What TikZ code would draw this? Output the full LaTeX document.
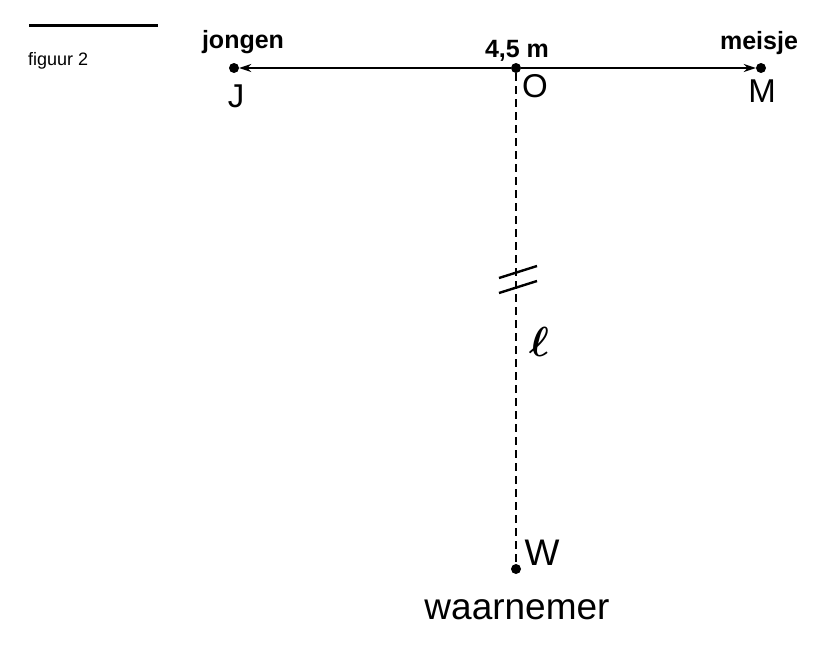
\documentclass[tikz,border=0pt]{standalone}
\usepackage{fontspec}
\setmainfont{Liberation Sans}
\usetikzlibrary{arrows.meta}
\begin{document}
\begin{tikzpicture}[x=1pt,y=-1pt,
  pt/.style={circle,fill=black,inner sep=0pt,minimum size=10pt},
  lbl/.style={font=\fontsize{25}{28}\selectfont\bfseries,anchor=base,inner sep=0pt},
  big/.style={font=\fontsize{33}{36}\selectfont,anchor=base,inner sep=0pt},
  huge/.style={font=\fontsize{37}{40}\selectfont,anchor=base,inner sep=0pt},
  arr/.style={line width=2.6pt,-{Stealth[length=12pt,width=8pt]}},
  dline/.style={line width=1.8pt,dash pattern=on 8pt off 5pt},
  brk/.style={line width=2.4pt},
  rule/.style={line width=3pt},
  lsty/.style={inner sep=0pt}
]
\useasboundingbox (0,0) rectangle (829,645);
% title rule and caption
\coordinate (r1) at (29,25.7);
\coordinate (r2) at (158,25.7);
\draw[rule] (r1) -- (r2);
\node[font=\fontsize{18}{20}\selectfont,anchor=base west,inner sep=0pt] (fig) at (28,65) {figuur 2};
% points
\node[pt] (J) at (234,68) {};
\node[pt] (O) at (516,68) {};
\node[pt] (M) at (761,68) {};
\node[pt] (W) at (516,569) {};
% labels
\node[lbl] (jl) at (243,48) {jongen};
\node[lbl] (ml) at (759,49) {meisje};
\node[lbl] (dist) at (517,57) {4,5 m};
\node[big] (Jl) at (236,107) {J};
\node[big] (Ol) at (535,97) {O};
\node[big] (Ml) at (762,102) {M};
\node[huge] (Wl) at (542,565) {W};
\node[huge] (wn) at (517,619) {waarnemer};
% connectors
\draw[arr] (O) -- (J);
\draw[arr] (O) -- (M);
\draw[dline] (O) -- (W);
% break marks
\coordinate (b1a) at (499,278);
\coordinate (b1b) at (537,266);
\coordinate (b2a) at (499,293);
\coordinate (b2b) at (537,281);
\draw[brk] (b1a) -- (b1b);
\draw[brk] (b2a) -- (b2b);
\node[lsty] (lsym) at (539,342) {\scalebox{4.2}{\boldmath$\ell$}};
\end{tikzpicture}
\end{document}
